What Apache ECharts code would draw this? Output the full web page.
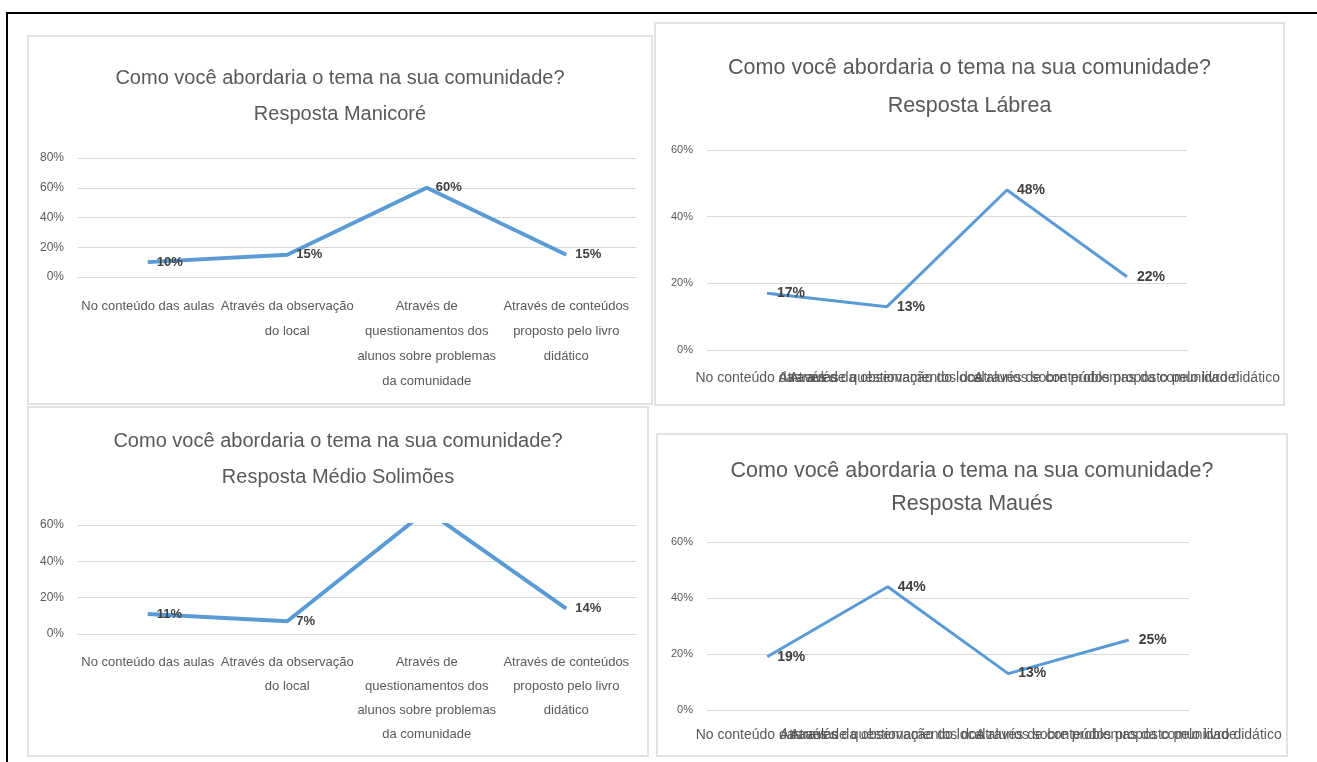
<!DOCTYPE html>
<html>
<head>
<meta charset="utf-8">
<script src="https://cdn.jsdelivr.net/npm/echarts@6/dist/echarts.min.js"></script>
<style>
  html, body { margin: 0; padding: 0; background: #fff; width: 1317px; height: 762px; overflow: hidden; }
  .frameTop { position: absolute; left: 6px; top: 12px; width: 1311px; height: 2px; background: #000; }
  .frameLeft { position: absolute; left: 6px; top: 12px; width: 2px; height: 750px; background: #000; }
  .panel { position: absolute; box-sizing: border-box; border: 2px solid #e2e2e2; background: #fff; }
</style>
</head>
<body>
<div class="frameTop"></div>
<div class="frameLeft"></div>
<div id="p1" class="panel" style="left:27px; top:35px; width:626px; height:370px;"></div>
<div id="p2" class="panel" style="left:654px; top:22px; width:631px; height:384px;"></div>
<div id="p3" class="panel" style="left:27px; top:406px; width:622px; height:351px;"></div>
<div id="p4" class="panel" style="left:656px; top:433px; width:632px; height:324px;"></div>
<script>
// ---- data ----
const titleQuestion = 'Como você abordaria o tema na sua comunidade?';
const regions = ['Resposta Manicoré', 'Resposta Lábrea', 'Resposta Médio Solimões', 'Resposta Maués'];
const categories = [
  'No conteúdo das aulas',
  'Através da observação do local',
  'Através de questionamentos dos alunos sobre problemas da comunidade',
  'Através de conteúdos proposto pelo livro didático'
];
const manicore = [10, 15, 60, 15];
const labrea = [17, 13, 48, 22];
const medioSolimoes = [11, 7, 68, 14];
const maues = [19, 44, 13, 25];
const yMaxManicore = 80;
const yMaxOthers = 60;

const gray = '#595959';
const lineBlue = '#5B9BD5';
const font = '"Liberation Sans", Arial, sans-serif';

// greedy word wrap (like the spreadsheet's category labels)
const measureCtx = document.createElement('canvas').getContext('2d');
function wrapText(text, maxWidth, size) {
  measureCtx.font = size + 'px ' + font;
  const words = text.split(' ');
  const lines = [];
  let cur = '';
  words.forEach(w => {
    const test = cur ? cur + ' ' + w : w;
    if (cur && measureCtx.measureText(test).width > maxWidth) {
      lines.push(cur);
      cur = w;
    } else {
      cur = test;
    }
  });
  if (cur) lines.push(cur);
  return lines.join('\n');
}

function build(cfg) {
  const data = cfg.values.map(v => v > cfg.yMax ? { value: v, label: { show: false } } : v);
  return {
    animation: false,
    title: {
      text: titleQuestion + '\n' + cfg.region,
      left: 'center',
      top: cfg.titleTop,
      textStyle: {
        fontFamily: font,
        fontSize: cfg.titleSize,
        fontWeight: 'normal',
        color: gray,
        lineHeight: cfg.titleLH
      }
    },
    grid: { left: cfg.gl, top: cfg.gt, width: cfg.gw, height: cfg.gh, containLabel: false, outerBoundsMode: 'none' },
    xAxis: {
      type: 'category',
      data: categories,
      boundaryGap: true,
      axisLine: { show: true, lineStyle: { color: '#d9d9d9' } },
      axisTick: { show: false },
      axisLabel: {
        interval: 0,
        hideOverlap: false,
        color: gray,
        fontFamily: font,
        fontSize: cfg.xSize,
        margin: cfg.xMargin,
        lineHeight: cfg.xLH,
        formatter: cfg.wrap ? (v => wrapText(v, cfg.wrap, cfg.xSize)) : (v => v)
      }
    },
    yAxis: {
      type: 'value',
      min: 0,
      max: cfg.yMax,
      interval: 20,
      axisLine: { show: false },
      axisTick: { show: false },
      splitLine: { lineStyle: { color: '#d9d9d9' } },
      axisLabel: { formatter: '{value}%', color: gray, fontFamily: font, fontSize: cfg.ySize, margin: cfg.yMargin }
    },
    series: [{
      type: 'line',
      data: data,
      clip: true,
      symbol: 'circle',
      symbolSize: 0.1,
      itemStyle: { color: lineBlue },
      lineStyle: { color: lineBlue, width: cfg.lw },
      label: {
        show: true,
        position: 'right',
        distance: cfg.ldist,
        formatter: '{c}%',
        color: '#404040',
        fontWeight: 'bold',
        fontFamily: font,
        fontSize: cfg.lSize
      }
    }]
  };
}

const panels = [
  { id: 'p1', region: regions[0], values: manicore, yMax: yMaxManicore,
    titleTop: 18, titleSize: 20, titleLH: 36,
    gl: 49, gt: 121, gw: 558, gh: 119,
    xSize: 13, xLH: 25, xMargin: 17, wrap: 145, ySize: 12, yMargin: 14, lSize: 13, lw: 4, ldist: 9 },
  { id: 'p2', region: regions[1], values: labrea, yMax: yMaxOthers,
    titleTop: 20, titleSize: 21.5, titleLH: 38,
    gl: 51, gt: 126, gw: 480, gh: 200,
    xSize: 14, xLH: 16, xMargin: 20, wrap: 0, ySize: 11, yMargin: 14, lSize: 14, lw: 3, ldist: 10 },
  { id: 'p3', region: regions[2], values: medioSolimoes, yMax: yMaxOthers,
    titleTop: 10, titleSize: 20, titleLH: 36,
    gl: 49, gt: 117, gw: 558, gh: 109,
    xSize: 13, xLH: 24, xMargin: 16, wrap: 145, ySize: 12, yMargin: 14, lSize: 13, lw: 4, ldist: 9 },
  { id: 'p4', region: regions[3], values: maues, yMax: yMaxOthers,
    titleTop: 15, titleSize: 21.5, titleLH: 33,
    gl: 49, gt: 107, gw: 482, gh: 168,
    xSize: 14, xLH: 16, xMargin: 17, wrap: 0, ySize: 11, yMargin: 14, lSize: 14, lw: 3, ldist: 10 }
];

panels.forEach(p => {
  const el = document.getElementById(p.id);
  const chart = echarts.init(el, null, { renderer: 'canvas' });
  chart.setOption(build(p));
});
</script>
</body>
</html>
